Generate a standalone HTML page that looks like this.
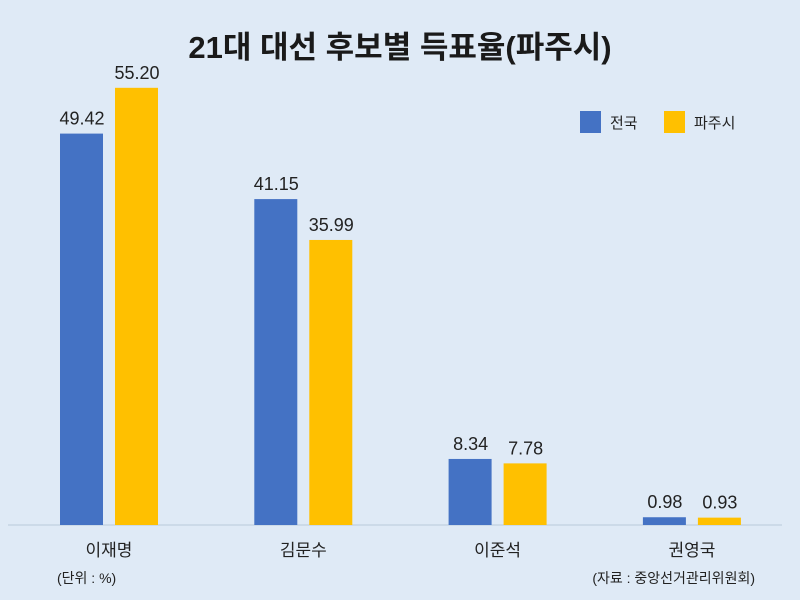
<!DOCTYPE html>
<html><head><meta charset="utf-8"><style>
body{margin:0;background:#dfeaf6;}
svg{display:block;font-family:"Liberation Sans","Noto Sans CJK KR",sans-serif;}
</style></head><body>
<svg id="chart" width="800" height="600">
<rect width="800" height="600" fill="#dfeaf6"/>
<text x="400" y="58" text-anchor="middle" font-size="31" font-weight="bold" fill="#1a1a1a">21대 대선 후보별 득표율(파주시)</text>
<line x1="8" y1="525" x2="782" y2="525" stroke="#c5d4e4" stroke-width="1.5"/>
<g>
<rect x="580" y="111" width="21" height="22" fill="#4472c4"/>
<text x="610" y="128" font-size="15" fill="#222">전국</text>
<rect x="664" y="111" width="21" height="22" fill="#ffc000"/>
<text x="694" y="128" font-size="15" fill="#222">파주시</text>
</g>
<g id="bars"></g>
<text x="57" y="583" font-size="14" fill="#222">(단위 : %)</text>
<text x="755" y="583" text-anchor="end" font-size="14" fill="#222">(자료 : 중앙선거관리위원회)</text>
</svg>
<script>
const categories = ["이재명","김문수","이준석","권영국"];
const nationalValues = [49.42,41.15,8.34,0.98];
const pajuValues = [55.20,35.99,7.78,0.93];
const nationalLabels = ["49.42","41.15","8.34","0.98"];
const pajuLabels = ["55.20","35.99","7.78","0.93"];

const baseY = 525, pxPerUnit = 7.92;
const y = v => baseY - v * pxPerUnit;
const groupX = i => 109 + i * 194.3;
const NS = "http://www.w3.org/2000/svg";
const g = document.getElementById("bars");
function mk(tag, attrs){const e=document.createElementNS(NS,tag);for(const k in attrs)e.setAttribute(k,attrs[k]);g.appendChild(e);return e;}
categories.forEach((c,i)=>{
  const cx = groupX(i);
  const b1 = mk("rect",{x:cx-49,y:y(nationalValues[i]),width:43,height:baseY-y(nationalValues[i]),fill:"#4472c4"});
  
  
  const b2 = mk("rect",{x:cx+6,y:y(pajuValues[i]),width:43,height:baseY-y(pajuValues[i]),fill:"#ffc000"});
  
  
  const t1 = mk("text",{x:cx-27,y:y(nationalValues[i])-9,"text-anchor":"middle","font-size":"18",fill:"#222"});
  t1.textContent = nationalLabels[i];
  
  
  const t2 = mk("text",{x:cx+28,y:y(pajuValues[i])-9,"text-anchor":"middle","font-size":"18",fill:"#222"});
  t2.textContent = pajuLabels[i];
  
  
  const cl = mk("text",{x:cx,y:556,"text-anchor":"middle","font-size":"17",fill:"#222"});
  cl.textContent = c;
  
  
});
</script>
</body></html>
